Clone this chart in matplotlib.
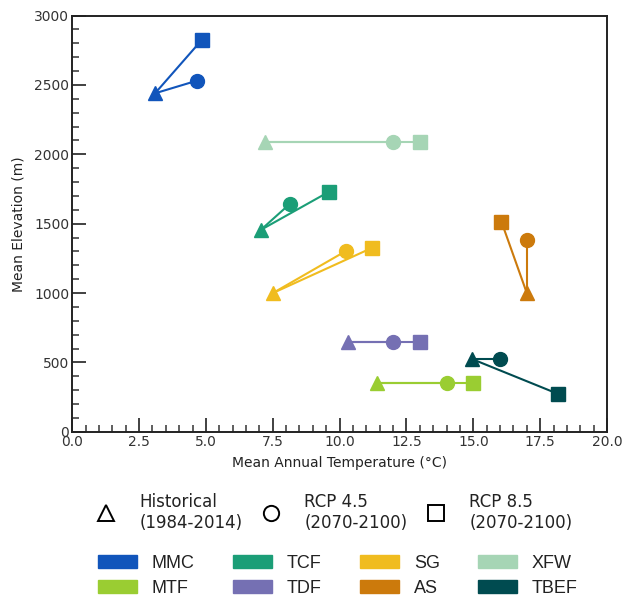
import numpy as np
import matplotlib
matplotlib.use("Agg")
import matplotlib.pyplot as plt
from matplotlib.lines import Line2D
from matplotlib.patches import Patch
from matplotlib.ticker import MultipleLocator

# biome classes, in drawing order
biomes = ["MMC", "XFW", "TCF", "SG", "AS", "TDF", "MTF", "TBEF"]
colors = ["#1155bb", "#a6d5b5", "#1b9e77", "#f0bc1f", "#cc7a0c", "#7570b3", "#9acd32", "#004b50"]

# mean annual temperature (degC) and mean elevation (m) per scenario
hist_t = [3.1, 7.2, 7.05, 7.5, 17.0, 10.3, 11.4, 14.95]
hist_z = [2440, 2090, 1455, 1000, 1000, 650, 350, 525]
rcp45_t = [4.65, 12.0, 8.15, 10.25, 17.0, 12.0, 14.0, 16.0]
rcp45_z = [2530, 2090, 1645, 1305, 1385, 650, 350, 525]
rcp85_t = [4.85, 13.0, 9.6, 11.2, 16.05, 13.0, 15.0, 18.15]
rcp85_z = [2825, 2090, 1730, 1325, 1515, 650, 350, 275]

scen_labels = ["Historical\n(1984-2014)", "RCP 4.5\n(2070-2100)", "RCP 8.5\n(2070-2100)"]
legend_order = ["MMC", "MTF", "TCF", "TDF", "SG", "AS", "XFW", "TBEF"]

fig = plt.figure(figsize=(6.22, 5.99), dpi=100)
ax = fig.add_axes([0.116, 0.279, 0.86, 0.695])

for i, b in enumerate(biomes):
    c = colors[i]
    ax.plot([rcp45_t[i], hist_t[i]], [rcp45_z[i], hist_z[i]], color=c, lw=1.5, zorder=2)
    ax.plot([rcp85_t[i], hist_t[i]], [rcp85_z[i], hist_z[i]], color=c, lw=1.5, zorder=2)
    ax.plot(hist_t[i], hist_z[i], marker="^", ms=10, color=c, ls="none", zorder=3)
    ax.plot(rcp45_t[i], rcp45_z[i], marker="o", ms=10, color=c, ls="none", zorder=3)
    ax.plot(rcp85_t[i], rcp85_z[i], marker="s", ms=9.5, color=c, ls="none", zorder=3)

ax.set_xlim(0, 20)
ax.set_ylim(0, 3000)
ax.xaxis.set_major_locator(MultipleLocator(2.5))
ax.xaxis.set_minor_locator(MultipleLocator(0.5))
ax.yaxis.set_major_locator(MultipleLocator(500))
ax.yaxis.set_minor_locator(MultipleLocator(100))
ax.tick_params(which="major", direction="in", length=10, width=1.3, color="#333333",
               labelcolor="#333333", labelsize=10, pad=2)
ax.tick_params(which="minor", direction="in", length=5, width=1.1, color="#333333")
for s in ax.spines.values():
    s.set_color("#222222")
    s.set_linewidth(1.4)
ax.set_xlabel("Mean Annual Temperature (°C)", fontsize=10, color="#222222", labelpad=5)
ax.set_ylabel("Mean Elevation (m)", fontsize=10, color="#222222", labelpad=6)

# scenario legend
mk = ["^", "o", "s"]
h1 = [Line2D([], [], marker=m, ls="none", ms=11, mfc="none", mec="black", mew=1.4) for m in mk]
leg1 = fig.legend(h1, scen_labels, loc="center", bbox_to_anchor=(0.532, 0.145), ncol=3,
                  frameon=False, prop={"family": "DejaVu Sans", "size": 12},
                  handletextpad=1.0, columnspacing=0.7, handlelength=2.0)
for t in leg1.get_texts():
    t.set_color("#222222")

# biome legend
h2 = [Patch(color=colors[biomes.index(b)]) for b in legend_order]
leg2 = fig.legend(h2, legend_order, loc="center", bbox_to_anchor=(0.543, 0.039), ncol=4,
                  frameon=False, prop={"family": "Liberation Sans", "size": 13},
                  handlelength=2.17, handleheight=0.72, handletextpad=0.83, columnspacing=2.1,
                  labelspacing=0.45)
for t in leg2.get_texts():
    t.set_color("#222222")

fig.savefig("out.png", dpi=100)
